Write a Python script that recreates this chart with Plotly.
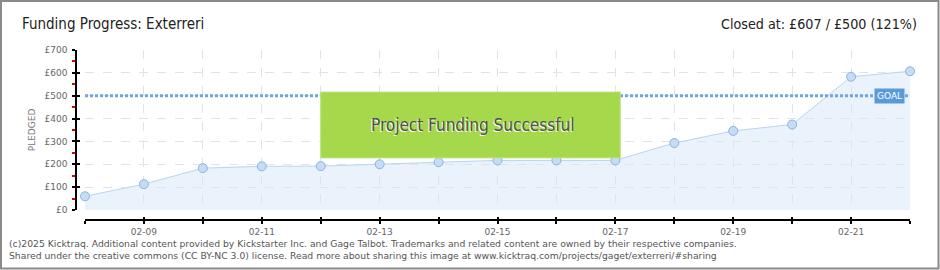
import plotly.graph_objects as go

# ---- data ----
dates = ["2025-02-08", "2025-02-09", "2025-02-10", "2025-02-11", "2025-02-12",
         "2025-02-13", "2025-02-14", "2025-02-15", "2025-02-16", "2025-02-17",
         "2025-02-18", "2025-02-19", "2025-02-20", "2025-02-21", "2025-02-22"]
pledged = [60, 113, 183, 191, 192, 200, 209, 217, 217, 217, 293, 346, 374, 583, 607]
goal = 500
y_ticks = [0, 100, 200, 300, 400, 500, 600, 700]
y_tick_text = ["£" + str(v) for v in y_ticks]
title_left = "Funding Progress: Exterreri"
title_right = "Closed at: £607 / £500 (121%)"
success_text = "Project Funding Successful"
success_x = ["2025-02-12", "2025-02-17 02:00"]
success_y = [228, 516]
footer1 = ("(c)2025 Kicktraq. Additional content provided by Kickstarter Inc. and Gage Talbot. "
           "Trademarks and related content are owned by their respective companies.")
footer2 = ("Shared under the creative commons (CC BY-NC 3.0) license. Read more about sharing "
           "this image at www.kicktraq.com/projects/gaget/exterreri/#sharing")

# ---- geometry helpers (layout only) ----
W, H = 940, 270
L, R, T, B = 76, 910, 50, 220


def px_x(px):
    return (px - L) / (R - L)


def px_y(py):
    return (B - py) / (B - T)


TITLE_FONT = "DejaVu Sans Condensed, Roboto, sans-serif"
TICK_FONT = dict(family="DejaVu Sans, sans-serif", size=9, color="#666")

fig = go.Figure()

fig.add_trace(go.Scatter(
    x=dates, y=pledged, mode="lines+markers",
    line=dict(color="#b7d4f2", width=1),
    fill="tozeroy", fillcolor="rgba(214,232,250,0.5)",
    marker=dict(size=9, color="#c4dcf6", line=dict(color="#8db3dc", width=1)),
    cliponaxis=False, hoverinfo="skip", showlegend=False,
))

fig.add_trace(go.Scatter(
    x=[dates[0], dates[-1]], y=[goal, goal], mode="lines",
    line=dict(color="#6ea6e0", width=3, dash="3px,2px"),
    hoverinfo="skip", showlegend=False,
))

grid = dict(showgrid=True, gridcolor="#e3e3e3", griddash="dash", gridwidth=1)

fig.update_layout(
    width=W, height=H,
    margin=dict(l=L, r=W - R, t=T, b=H - B),
    paper_bgcolor="white", plot_bgcolor="white",
    xaxis=dict(
        type="date", range=[dates[0], dates[-1]],
        domain=[px_x(85), 1], anchor="free", position=0,
        tick0="2025-02-09", dtick=2 * 86400000, tickformat="%m-%d",
        ticks="outside", ticklen=3, tickcolor="#000", tickwidth=1.5,
        showline=True, linecolor="#000", linewidth=1.5,
        tickfont=TICK_FONT, zeroline=False,
        minor=dict(dtick=86400000, ticks="outside", ticklen=3, tickcolor="#000",
                   tickwidth=1.5, showgrid=True, gridcolor="#e3e3e3", griddash="dash"),
        **grid,
    ),
    xaxis2=dict(
        type="date", range=[dates[0], dates[-1]], overlaying="x",
        domain=[px_x(85), 1], anchor="free", position=0,
        dtick=86400000, tick0=dates[0], ticks="inside", ticklen=3, tickcolor="#000",
        tickwidth=1.5, showticklabels=False, showgrid=False, showline=False, zeroline=False,
    ),
    yaxis=dict(
        range=[0, 700], domain=[px_y(210), 1], anchor="free", position=0,
        tickvals=y_ticks, ticktext=y_tick_text,
        ticks="outside", ticklen=3, tickcolor="#000", tickwidth=1.5,
        showline=True, linecolor="#000", linewidth=1.5,
        tickfont=TICK_FONT, zeroline=False, ticklabelstandoff=3,
        minor=dict(tick0=0, dtick=50, ticks="outside",
                   ticklen=3, tickcolor="#e00000", tickwidth=1.5, showgrid=False),
        title=dict(text="PLEDGED", font=dict(family="DejaVu Sans, sans-serif", size=9, color="#777"),
                   standoff=6),
        **grid,
    ),
    yaxis2=dict(
        range=[0, 700], domain=[px_y(210), 1], overlaying="y", anchor="free", position=0,
        tickvals=y_ticks, ticks="inside", ticklen=3, tickcolor="#000", tickwidth=1.5,
        showticklabels=False, showgrid=False, showline=False, zeroline=False,
    ),
)

# invisible trace to activate overlay axes
fig.add_trace(go.Scatter(x=[dates[0]], y=[0], xaxis="x2", yaxis="y2", mode="markers",
                         marker=dict(opacity=0), hoverinfo="skip", showlegend=False))

fig.add_shape(type="rect", xref="x", yref="y",
              x0=success_x[0], x1=success_x[1], y0=success_y[0], y1=success_y[1],
              fillcolor="#a6d84c", line=dict(color="#bde27a", width=1), layer="above")
fig.add_annotation(x="2025-02-14 14:00", y=(success_y[0] + success_y[1]) / 2,
                   xref="x", yref="y", text=success_text, showarrow=False,
                   font=dict(family=TITLE_FONT, size=17, color="#505050",
                             shadow="-1px 1px 0px #ffffff"))

fig.add_annotation(x=dates[-1], y=goal, xref="x", yref="y", text="GOAL",
                   showarrow=False, xanchor="right", xshift=-5,
                   bgcolor="#5b9ad9", borderpad=2,
                   font=dict(family="DejaVu Sans, sans-serif", size=9, color="white"))

fig.add_annotation(x=px_x(20), y=px_y(24), xref="paper", yref="paper", text=title_left,
                   showarrow=False, xanchor="left", yanchor="middle",
                   font=dict(family=TITLE_FONT, size=15, color="#222"))
fig.add_annotation(x=px_x(919), y=px_y(24), xref="paper", yref="paper", text=title_right,
                   showarrow=False, xanchor="right", yanchor="middle",
                   font=dict(family=TITLE_FONT, size=14.2, color="#222"))

fig.add_annotation(x=px_x(7), y=px_y(243), xref="paper", yref="paper", text=footer1,
                   showarrow=False, xanchor="left", yanchor="middle",
                   font=dict(family="DejaVu Sans, sans-serif", size=9.25, color="#555"))
fig.add_annotation(x=px_x(7), y=px_y(256), xref="paper", yref="paper", text=footer2,
                   showarrow=False, xanchor="left", yanchor="middle",
                   font=dict(family="DejaVu Sans, sans-serif", size=9.25, color="#555"))

fig.add_shape(type="rect", xref="paper", yref="paper",
              x0=px_x(1), x1=px_x(938.5), y0=px_y(1), y1=px_y(268.5),
              line=dict(color="#8a8a8a", width=2), fillcolor="rgba(0,0,0,0)")

fig.write_html("out.html")
